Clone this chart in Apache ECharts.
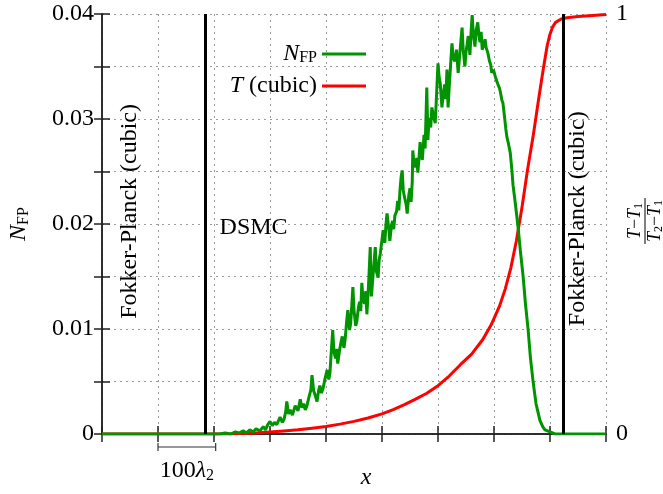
<!DOCTYPE html>
<html>
<head>
<meta charset="utf-8">
<script src="https://cdn.jsdelivr.net/npm/echarts@6/dist/echarts.min.js"></script>
<style>
html, body { margin: 0; padding: 0; background: #fff; }
#main { width: 663px; height: 494px; }
</style>
</head>
<body>
<div id="main"></div>
<script>
var FONT = '"Liberation Serif", "DejaVu Serif", serif';

// N_FP (left axis) - noisy DSMC profile
var nfpX = [0, 2.1, 2.2, 2.3, 2.38, 2.45, 2.52, 2.58, 2.64, 2.7, 2.75, 2.82, 2.88, 2.92, 2.96, 3.0, 3.04, 3.08, 3.12, 3.18,
    3.22, 3.25, 3.28, 3.3, 3.33, 3.36, 3.4, 3.45, 3.5, 3.54, 3.57, 3.6, 3.63, 3.66, 3.7, 3.73, 3.75, 3.78, 3.8, 3.84,
    3.87, 3.89, 3.92, 3.95, 3.98, 4.02, 4.05, 4.07, 4.1, 4.12, 4.14, 4.17, 4.19, 4.21, 4.24, 4.27, 4.29, 4.32, 4.34, 4.37,
    4.39, 4.42, 4.44, 4.46, 4.48, 4.5, 4.53, 4.55, 4.58, 4.6, 4.62, 4.64, 4.66, 4.69, 4.71, 4.73, 4.76, 4.79, 4.81, 4.82,
    4.85, 4.88, 4.9, 4.93, 4.95, 4.97, 5.0, 5.02, 5.05, 5.07, 5.09, 5.12, 5.14, 5.17, 5.19, 5.21, 5.23, 5.26, 5.28, 5.3,
    5.32, 5.34, 5.36, 5.38, 5.4, 5.43, 5.45, 5.48, 5.5, 5.52, 5.54, 5.55, 5.57, 5.6, 5.62, 5.64, 5.66, 5.68, 5.7, 5.72,
    5.74, 5.75, 5.77, 5.8, 5.82, 5.84, 5.87, 5.89, 5.92, 5.95, 5.97, 6.0, 6.02, 6.04, 6.07, 6.09, 6.12, 6.14, 6.16, 6.18,
    6.2, 6.23, 6.25, 6.27, 6.3, 6.33, 6.36, 6.39, 6.41, 6.43, 6.45, 6.48, 6.5, 6.52, 6.54, 6.57, 6.59, 6.61, 6.63, 6.66,
    6.68, 6.71, 6.73, 6.75, 6.77, 6.79, 6.82, 6.84, 6.86, 6.89, 6.92, 6.94, 6.96, 6.99, 7.02, 7.05, 7.07, 7.1, 7.12, 7.14,
    7.16, 7.19, 7.21, 7.23, 7.26, 7.29, 7.32, 7.34, 7.38, 7.43, 7.47, 7.52, 7.56, 7.61, 7.65, 7.7, 7.75, 7.82, 7.87, 7.91,
    8.0, 8.09, 9];
var nfpY = [0, 0, 0.0001, 0, 0.0002, 0.0001, 0.0003, 0.0001, 0.0004, 0.0002, 0.0005, 0.0003, 0.0007, 0.0004, 0.0009, 0.0012, 0.0008, 0.0011, 0.0009, 0.0016,
    0.0011, 0.0014, 0.0021, 0.0031, 0.0019, 0.0023, 0.0018, 0.0027, 0.0022, 0.0033, 0.0025, 0.0029, 0.0023, 0.0027, 0.0036, 0.0042, 0.0056, 0.0041, 0.0038, 0.0031,
    0.0042, 0.0046, 0.0039, 0.0044, 0.0052, 0.0061, 0.0052, 0.0058, 0.0083, 0.0099, 0.0079, 0.0072, 0.0081, 0.0067, 0.0079, 0.0088, 0.0093, 0.0082, 0.0089, 0.0108,
    0.0118, 0.0099, 0.0105, 0.0122, 0.014, 0.0118, 0.0103, 0.0107, 0.0121, 0.0126, 0.0117, 0.0144, 0.0128, 0.0124, 0.0136, 0.0114, 0.0142, 0.0178, 0.0131, 0.0137,
    0.0158, 0.0178, 0.0155, 0.0149, 0.0166, 0.0172, 0.0185, 0.0194, 0.0182, 0.0199, 0.021, 0.0196, 0.0184, 0.0199, 0.0203, 0.0195, 0.0208, 0.0212, 0.0222, 0.0213,
    0.0231, 0.0244, 0.0251, 0.0232, 0.0226, 0.0219, 0.021, 0.0228, 0.0234, 0.0221, 0.024, 0.027, 0.0258, 0.0254, 0.0263, 0.0249, 0.0262, 0.0278, 0.0268, 0.0261,
    0.0276, 0.0285, 0.0272, 0.033, 0.028, 0.0301, 0.0292, 0.0311, 0.0303, 0.0296, 0.0318, 0.0353, 0.034, 0.0334, 0.0311, 0.0322, 0.0333, 0.0319, 0.0347, 0.0311,
    0.033, 0.0356, 0.0372, 0.0358, 0.0355, 0.0366, 0.0344, 0.0362, 0.0375, 0.0387, 0.0366, 0.035, 0.0364, 0.0371, 0.0379, 0.0361, 0.0382, 0.0399, 0.0381, 0.0369,
    0.0384, 0.0392, 0.038, 0.0373, 0.0383, 0.0366, 0.0371, 0.0376, 0.0368, 0.0363, 0.0355, 0.0352, 0.0344, 0.0347, 0.0341, 0.0336, 0.0333, 0.0329, 0.0324, 0.0318,
    0.0315, 0.0301, 0.0291, 0.0283, 0.0276, 0.0268, 0.0251, 0.0237, 0.022, 0.0197, 0.0175, 0.015, 0.0125, 0.0099, 0.0073, 0.0049, 0.0029, 0.0013, 0.0007, 0.0004,
    0.0002, 0, 0];

// T (cubic), (T-T1)/(T2-T1) on the right axis
var tempX = [0, 2.3, 2.5, 2.75, 3.0, 3.25, 3.5, 3.75, 4.0, 4.25, 4.5, 4.75, 5.0, 5.2, 5.4, 5.6, 5.8, 6.0, 6.2, 6.4,
    6.6, 6.8, 6.95, 7.1, 7.2, 7.3, 7.4, 7.5, 7.6, 7.7, 7.8, 7.875, 7.95, 8.0, 8.05, 8.1, 8.2, 8.3, 8.5, 8.7, 9];
var tempY = [0, 0, 0.001, 0.0025, 0.005, 0.0073, 0.01, 0.0138, 0.018, 0.0235, 0.03, 0.038, 0.048, 0.058, 0.07, 0.083, 0.097, 0.115, 0.138, 0.165,
    0.19, 0.225, 0.26, 0.305, 0.345, 0.395, 0.46, 0.54, 0.63, 0.71, 0.8, 0.865, 0.925, 0.952, 0.97, 0.98, 0.988, 0.991, 0.994, 0.996, 0.999];

// FP / DSMC domain boundaries and the length scale bar (x units)
var boundaries = [1.84, 8.23];
var scaleBar = [1, 2.03];

function zip(xs, ys) {
    return xs.map(function (x, i) { return [x, ys[i]]; });
}

var chart = echarts.init(document.getElementById('main'));

var gridLine = { show: true, lineStyle: { color: '#9a9a9a', type: [2, 4], width: 1 } };
var axisLine = { show: true, lineStyle: { color: '#222', width: 1.5 } };
var tick = { show: true, inside: true, length: 8, lineStyle: { color: '#222', width: 1.5 } };

var option = {
    animation: false,
    backgroundColor: '#fff',
    grid: { left: 102, right: 57, top: 14, bottom: 60, outerBoundsMode: 'none', containLabel: false },
    legend: {
        data: ['NFP', 'T'],
        orient: 'vertical',
        right: 297,
        top: 42,
        padding: 0,
        align: 'right',
        icon: 'rect',
        itemWidth: 44,
        itemHeight: 3,
        itemGap: 8,
        formatter: function (name) {
            return name === 'NFP' ? '{i|N}{s|FP}' : '{i|T} (cubic)';
        },
        textStyle: {
            fontFamily: FONT, fontSize: 24, color: '#000', lineHeight: 24,
            rich: {
                i: { fontFamily: FONT, fontSize: 24, fontStyle: 'italic', lineHeight: 24 },
                s: { fontFamily: FONT, fontSize: 16, verticalAlign: 'bottom', padding: [10, 0, 0, 0] }
            }
        }
    },
    xAxis: [{
        type: 'value', min: 0, max: 9, interval: 1,
        axisLine: axisLine, axisTick: tick, axisLabel: { show: false },
        splitLine: gridLine
    }, {
        type: 'value', position: 'top', min: 0, max: 9, interval: 1,
        axisLine: axisLine, axisTick: tick, axisLabel: { show: false },
        splitLine: { show: false }
    }],
    yAxis: [{
        type: 'value', min: 0, max: 0.04, interval: 0.005,
        axisLine: axisLine, axisTick: tick, splitLine: gridLine,
        axisLabel: {
            fontFamily: FONT, fontSize: 24, color: '#000', margin: 8,
            formatter: function (v) {
                if (v === 0) return '0';
                var k = v * 100;
                return Math.abs(k - Math.round(k)) < 1e-6 ? v.toFixed(2) : '';
            }
        },
        name: '{i|N}{s|FP}',
        nameLocation: 'middle',
        nameGap: 70,
        nameTextStyle: {
            rich: {
                i: { fontFamily: FONT, fontSize: 24, fontStyle: 'italic', color: '#000', lineHeight: 24 },
                s: { fontFamily: FONT, fontSize: 16, color: '#000', verticalAlign: 'bottom', padding: [10, 0, 0, 0] }
            }
        }
    }, {
        type: 'value', min: 0, max: 1, interval: 0.125, position: 'right',
        axisLine: axisLine, axisTick: tick, splitLine: { show: false },
        axisLabel: {
            fontFamily: FONT, fontSize: 24, color: '#000', margin: 10,
            formatter: function (v) { return (v === 0 || v === 1) ? String(v) : ''; }
        }
    }],
    series: [{
        name: 'NFP', type: 'line', xAxisIndex: 0, yAxisIndex: 0,
        data: zip(nfpX, nfpY), showSymbol: false, symbol: 'none',
        lineStyle: { color: '#009400', width: 3 }, itemStyle: { color: '#009400' },
        markLine: {
            silent: true, symbol: ['none', 'none'], label: { show: false },
            lineStyle: { color: '#000', width: 3, type: 'solid' },
            data: boundaries.map(function (b) { return { xAxis: b }; })
        },
        z: 3
    }, {
        name: 'T', type: 'line', xAxisIndex: 0, yAxisIndex: 1,
        data: zip(tempX, tempY), showSymbol: false, symbol: 'none',
        lineStyle: { color: '#ff0000', width: 3, join: 'round' }, itemStyle: { color: '#ff0000' },
        z: 2
    }]
};

chart.setOption(option);

// annotations placed from data coordinates
function px(x, y) { return chart.convertToPixel({ xAxisIndex: 0, yAxisIndex: 0 }, [x, y]); }
var base = px(0, 0)[1];
var fpL = px(0.5, 0.0212), fpR = px(8.5, 0.0205), dsmc = px(2.1, 0.0196);
var sb0 = px(scaleBar[0], 0)[0], sb1 = px(scaleBar[1], 0)[0], sbY = base + 13;
var txt = { fontFamily: FONT, fontSize: 24, fill: '#000' };
var fracRich = {
    i: { fontFamily: FONT, fontSize: 18, fontStyle: 'italic' },
    s: { fontFamily: FONT, fontSize: 12, verticalAlign: 'bottom', padding: [7, 0, 0, 0] }
};

chart.setOption({
    graphic: [
        { type: 'text', x: fpL[0], y: fpL[1], rotation: Math.PI / 2,
          style: Object.assign({ text: 'Fokker-Planck (cubic)', align: 'center', verticalAlign: 'middle' }, txt) },
        { type: 'text', x: fpR[0], y: fpR[1], rotation: Math.PI / 2,
          style: Object.assign({ text: 'Fokker-Planck (cubic)', align: 'center', verticalAlign: 'middle' }, txt) },
        { type: 'text', x: dsmc[0], y: dsmc[1],
          style: Object.assign({ text: 'DSMC', align: 'left', verticalAlign: 'middle' }, txt) },
        { type: 'line', shape: { x1: sb0, y1: sbY, x2: sb1, y2: sbY }, style: { stroke: '#333', lineWidth: 1.2 } },
        { type: 'line', shape: { x1: sb0, y1: sbY - 4, x2: sb0, y2: sbY + 4 }, style: { stroke: '#333', lineWidth: 1.2 } },
        { type: 'line', shape: { x1: sb1, y1: sbY - 4, x2: sb1, y2: sbY + 4 }, style: { stroke: '#333', lineWidth: 1.2 } },
        { type: 'text', x: (sb0 + sb1) / 2, y: sbY + 24,
          style: { text: '100{l|λ}{s|2}', align: 'center', verticalAlign: 'middle', fontFamily: FONT, fontSize: 24, fill: '#000',
                   rich: { l: { fontFamily: FONT, fontSize: 24, fontStyle: 'italic', lineHeight: 24 },
                           s: { fontFamily: FONT, fontSize: 16, verticalAlign: 'bottom', padding: [10, 0, 0, 0] } } } },
        { type: 'text', x: 366, y: base + 44,
          style: { text: 'x', align: 'center', verticalAlign: 'middle', fontFamily: FONT, fontSize: 24, fontStyle: 'italic', fill: '#000' } },
        { type: 'group', x: 645, y: 221, rotation: Math.PI / 2, children: [
            { type: 'text', x: 0, y: -10,
              style: { text: '{i|T}−{i|T}{s|1}', align: 'center', verticalAlign: 'middle', fontFamily: FONT, fontSize: 18, fill: '#000', rich: fracRich } },
            { type: 'line', shape: { x1: -23, y1: 0, x2: 23, y2: 0 }, style: { stroke: '#000', lineWidth: 1 } },
            { type: 'text', x: 0, y: 10,
              style: { text: '{i|T}{s|2}−{i|T}{s|1}', align: 'center', verticalAlign: 'middle', fontFamily: FONT, fontSize: 18, fill: '#000', rich: fracRich } }
        ] }
    ]
});
</script>
</body>
</html>
